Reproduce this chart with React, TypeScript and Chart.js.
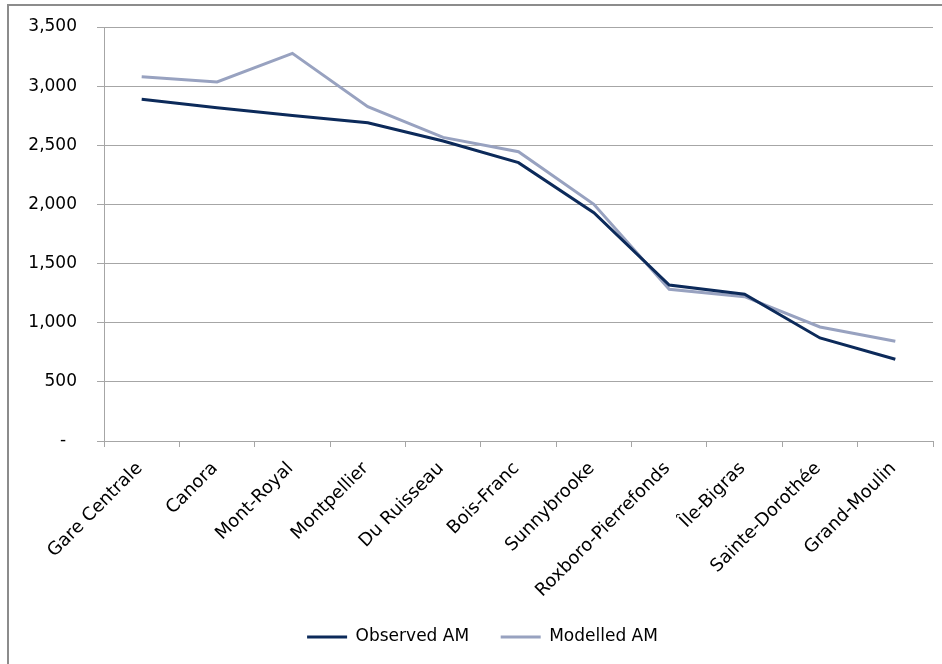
import React, { useEffect, useRef } from "react";
import { Chart, registerables } from "chart.js";

Chart.register(...registerables);

const categories = [
  "Gare Centrale",
  "Canora",
  "Mont-Royal",
  "Montpellier",
  "Du Ruisseau",
  "Bois-Franc",
  "Sunnybrooke",
  "Roxboro-Pierrefonds",
  "Île-Bigras",
  "Sainte-Dorothée",
  "Grand-Moulin",
];

const observedAM = [2890, 2818, 2752, 2691, 2536, 2353, 1930, 1319, 1240, 871, 691];
const modelledAM = [3080, 3035, 3277, 2826, 2567, 2446, 2001, 1283, 1220, 964, 843];

const yMin = 0;
const yMax = 3500;
const yStep = 500;

const FONT = "'DejaVu Sans', sans-serif";
const LEGEND_SHIFT = 11;

const legendShift = {
  id: "legendShift",
  afterLayout(chart: any) {
    if (chart.legend) {
      chart.legend.left += LEGEND_SHIFT;
      chart.legend.right += LEGEND_SHIFT;
    }
  },
};

export default function App() {
  const ref = useRef<HTMLCanvasElement | null>(null);

  useEffect(() => {
    document.body.style.margin = "0";
    document.body.style.overflow = "hidden";
    const canvas = ref.current;
    if (!canvas) return;
    const baseGen = (Chart as any).defaults.plugins.legend.labels.generateLabels;
    const chart = new Chart(canvas, {
      type: "line",
      data: {
        labels: categories,
        datasets: [
          {
            label: "Observed AM",
            data: observedAM,
            borderColor: "#0c2a5a",
            backgroundColor: "#0c2a5a",
            borderWidth: 3,
            pointRadius: 0,
            pointStyle: "line",
            tension: 0,
          },
          {
            label: "Modelled AM",
            data: modelledAM,
            borderColor: "#98a2c0",
            backgroundColor: "#98a2c0",
            borderWidth: 3,
            pointRadius: 0,
            pointStyle: "line",
            tension: 0,
          },
        ],
      },
      plugins: [legendShift],
      options: {
        responsive: false,
        animation: false,
        layout: { padding: { left: 10, right: 9, top: 27, bottom: 8.5 } },
        plugins: {
          tooltip: { enabled: false },
          legend: {
            position: "bottom",
            labels: {
              usePointStyle: true,
              pointStyleWidth: 40,
              padding: 10,
              color: "#000",
              font: { family: FONT, size: 17 },
              generateLabels: (c: any) =>
                baseGen(c).map((l: any, i: number) => ({
                  ...l,
                  text: i === 0 ? l.text + "    " : l.text,
                })),
            },
          },
        },
        scales: {
          x: {
            type: "category",
            offset: true,
            afterFit: (s: any) => {
              s.height = 177.5;
            },
            grid: {
              offset: true,
              display: true,
              drawOnChartArea: false,
              drawTicks: true,
              tickLength: 6,
              color: "#a6a6a6",
            },
            border: { display: true, color: "#a6a6a6", width: 1 },
            ticks: {
              autoSkip: false,
              minRotation: 45,
              maxRotation: 45,
              padding: 11,
              labelOffset: -2,
              color: "#000",
              font: { family: FONT, size: 18 },
            },
          },
          y: {
            min: yMin,
            max: yMax,
            afterFit: (s: any) => {
              s.width = 94;
              s.paddingTop = 10;
              s.paddingBottom = 10;
            },
            grid: {
              color: "#a6a6a6",
              drawTicks: true,
              tickLength: 7,
            },
            border: { display: true, color: "#a6a6a6", width: 1 },
            ticks: {
              stepSize: yStep,
              padding: 20,
              color: "#000",
              font: { family: FONT, size: 17 },
              callback: (v: any) =>
                Number(v) === 0 ? "-  " : Number(v).toLocaleString("en-US"),
            },
          },
        },
      },
    });
    return () => chart.destroy();
  }, []);

  return (
    <div>
      <div
        style={{
          position: "fixed",
          left: 7,
          top: 4,
          right: -20,
          bottom: -20,
          border: "2px solid #8c8c8c",
          background: "#fff",
        }}
      />
      <canvas
        ref={ref}
        width={942}
        height={664}
        style={{ position: "fixed", left: 0, top: 0, width: 942, height: 664 }}
      />
    </div>
  );
}
